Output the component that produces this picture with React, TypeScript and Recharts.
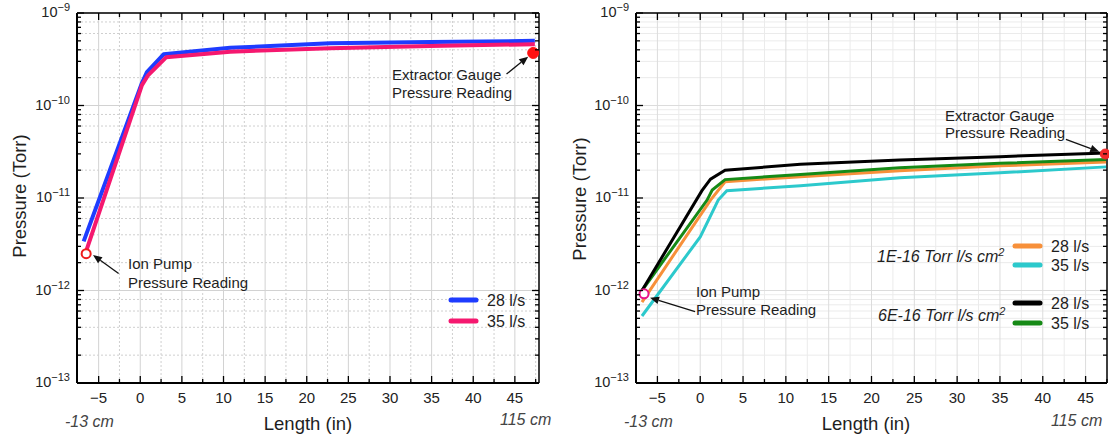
import { LineChart, Line, XAxis, YAxis, CartesianGrid, ReferenceDot, ReferenceLine } from "recharts";

const FONT = '"Liberation Sans", Arial, Helvetica, sans-serif';

// x positions (in) and pressures (Torr)
const leftX28 = [-6.8, 0.2, 0.8, 2.8, 10.8, 22.8, 34.8, 47.4];
const leftP28 = [3.4e-12, 1.75e-10, 2.3e-10, 3.58e-10, 4.2e-10, 4.7e-10, 4.85e-10, 5.0e-10];
const leftX35 = [-6.6, 0.2, 0.9, 3.1, 10.8, 22.8, 34.8, 47.4];
const leftP35 = [2.5e-12, 1.66e-10, 2.1e-10, 3.32e-10, 3.82e-10, 4.15e-10, 4.4e-10, 4.6e-10];

const rightXBlack = [-6.8, 0.2, 1.2, 2.9, 11.7, 23.3, 35, 47.4];
const rightPBlack = [1.0e-12, 1.2e-11, 1.6e-11, 2.0e-11, 2.31e-11, 2.58e-11, 2.8e-11, 3.06e-11];
const rightXGreen = [-6.8, 0.8, 1.4, 2.9, 11.7, 23.3, 35, 47.4];
const rightPGreen = [1.0e-12, 9.5e-12, 1.22e-11, 1.58e-11, 1.8e-11, 2.12e-11, 2.37e-11, 2.6e-11];
const rightXOrange = [-6.8, 1.2, 2.9, 11.7, 23.3, 35, 47.4];
const rightPOrange = [7.5e-13, 9.5e-12, 1.5e-11, 1.7e-11, 1.97e-11, 2.23e-11, 2.45e-11];
const rightXCyan = [-6.8, 0, 2.1, 3.1, 11.7, 23.3, 35, 47.4];
const rightPCyan = [5.3e-13, 3.8e-12, 9.5e-12, 1.2e-11, 1.36e-11, 1.66e-11, 1.87e-11, 2.17e-11];

// gauge readings
const ionLeft = { x: -6.5, p: 2.5e-12 };
const extLeft = { x: 47.2, p: 3.7e-10 };
const ionRight = { x: -6.56, p: 9.2e-13 };
const extRight = { x: 47.3, p: 2.99e-11 };

// axes
const xMajor = [-5, 0, 5, 10, 15, 20, 25, 30, 35, 40, 45];
const xMinor = [-2.5, 2.5, 7.5, 12.5, 17.5, 22.5, 27.5, 32.5, 37.5, 42.5, 47.5];
const yMajor = [1e-13, 1e-12, 1e-11, 1e-10, 1e-9];
const yMult = [2, 3, 4, 5, 6, 7, 8, 9];
const leftDomain = [-7.6, 47.9];
const rightDomain = [-7.5, 47.5];
const yDomain = [1e-13, 1e-9];

const yMinor = yMajor.slice(0, -1).flatMap((d) => yMult.map((m) => +(m * d).toPrecision(3)));
const yMinorEven = yMajor.slice(0, -1).flatMap((d) => [2, 4, 6, 8].map((m) => +(m * d).toPrecision(3)));
const yTicks = [...yMajor, ...yMinor].sort((a, b) => a - b);
const xTicks = [...xMajor, ...xMinor].sort((a, b) => a - b);

const pts = (xs: number[], ps: number[]) => xs.map((x, i) => ({ x, p: ps[i] }));

const isDecade = (v: number) => {
  const e = Math.round(Math.log10(v));
  return Math.abs(v / Math.pow(10, e) - 1) < 1e-6;
};

const YTick = ({ x, y, payload, side }: any) => {
  const v = payload.value;
  const major = isDecade(v);
  const len = major ? 7 : 4;
  const dir = side === "left" ? 1 : -1;
  const e = Math.round(Math.log10(v));
  return (
    <g>
      <line x1={x} y1={y} x2={x + dir * len} y2={y} stroke="#000" strokeWidth={1.3} />
      {major && side === "left" && (
        <text x={x - 7} y={y + 4} textAnchor="end" fontSize={14.5} fontFamily={FONT} fill="#222">
          10<tspan dy={-6} fontSize={11}>{`\u2212${-e}`}</tspan>
        </text>
      )}
    </g>
  );
};

const XTick = ({ x, y, payload, side }: any) => {
  const v = payload.value;
  const major = xMajor.includes(v);
  const len = major ? 7 : 4;
  const dir = side === "bottom" ? -1 : 1;
  return (
    <g>
      <line x1={x} y1={y} x2={x} y2={y + dir * len} stroke="#000" strokeWidth={1.3} />
      {major && side === "bottom" && (
        <text x={x} y={y + 20} textAnchor="middle" fontSize={15} fontFamily={FONT} fill="#222">
          {v < 0 ? `\u2212${-v}` : v}
        </text>
      )}
    </g>
  );
};

const Arrow = (props: any) => {
  const { x1, y1, x2, y2 } = props;
  const a = Math.atan2(y2 - y1, x2 - x1);
  const L = 9;
  const W = 3.8;
  const bx = x2 - L * Math.cos(a);
  const by = y2 - L * Math.sin(a);
  const head = `${x2},${y2} ${bx - W * Math.sin(a)},${by + W * Math.cos(a)} ${bx + W * Math.sin(a)},${by - W * Math.cos(a)}`;
  return (
    <g>
      <line x1={x1} y1={y1} x2={bx} y2={by} stroke="#111" strokeWidth={1.3} />
      <polygon points={head} fill="#111" />
    </g>
  );
};

const Txt = ({ x, y, children, size = 15, italic = false, anchor = "start", fill = "#1e1e1e", rotate = 0 }: any) => (
  <text
    x={x}
    y={y}
    fontSize={size}
    fontFamily={FONT}
    fontStyle={italic ? "italic" : "normal"}
    textAnchor={anchor}
    fill={fill}
    transform={rotate ? `rotate(${rotate} ${x} ${y})` : undefined}
  >
    {children}
  </text>
);

const axes = (domain: number[], rightWidth: number) => [
  <XAxis
    key="xb"
    xAxisId={0}
    type="number"
    dataKey="x"
    domain={domain}
    allowDataOverflow
    ticks={xTicks}
    interval={0}
    tickSize={0}
    tickMargin={0}
    tickLine={false}
    axisLine={{ stroke: "#000", strokeWidth: 2 }}
    height={30}
    tick={(p: any) => <XTick {...p} side="bottom" />}
  />,
  <XAxis
    key="xt"
    xAxisId="t"
    orientation="top"
    type="number"
    dataKey="x"
    domain={domain}
    allowDataOverflow
    ticks={xTicks}
    interval={0}
    tickSize={0}
    tickMargin={0}
    tickLine={false}
    axisLine={{ stroke: "#000", strokeWidth: 1.5 }}
    height={5}
    tick={(p: any) => <XTick {...p} side="top" />}
  />,
  <YAxis
    key="yl"
    yAxisId={0}
    scale="log"
    type="number"
    domain={yDomain}
    allowDataOverflow
    ticks={yTicks}
    interval={0}
    tickSize={0}
    tickMargin={0}
    tickLine={false}
    axisLine={{ stroke: "#000", strokeWidth: 2 }}
    width={60}
    tick={(p: any) => <YTick {...p} side="left" />}
  />,
  <YAxis
    key="yr"
    yAxisId="r"
    orientation="right"
    scale="log"
    type="number"
    domain={yDomain}
    allowDataOverflow
    ticks={yTicks}
    interval={0}
    tickSize={0}
    tickMargin={0}
    tickLine={false}
    axisLine={{ stroke: "#000", strokeWidth: 1.5 }}
    width={rightWidth}
    tick={(p: any) => <YTick {...p} side="right" />}
  />,
];

const LeftChart = () => (
  <LineChart width={560} height={441} margin={{ top: 8, right: 11, bottom: 28, left: 17 }}>
    <CartesianGrid horizontalValues={yMinorEven} verticalValues={xMinor} stroke="#cfcfcf" strokeDasharray="2 2" />
    <CartesianGrid horizontalValues={yMajor} verticalValues={xMajor} stroke="#d2d2d2" />
    {axes(leftDomain, 10)}
    <Line data={pts(leftX28, leftP28)} dataKey="p" stroke="#1e3cff" strokeWidth={4} dot={false} isAnimationActive={false} strokeLinejoin="round" />
    <Line data={pts(leftX35, leftP35)} dataKey="p" xAxisId="t" yAxisId="r" stroke="#f5186f" strokeWidth={4} dot={false} isAnimationActive={false} strokeLinejoin="round" />
    <ReferenceLine segment={[{ x: -2.6, y: 1.53e-12 }, { x: -5.68, y: 2.42e-12 }]} shape={Arrow} ifOverflow="visible" />
    <ReferenceLine segment={[{ x: 44.0, y: 2.19e-10 }, { x: 46.6, y: 3.37e-10 }]} shape={Arrow} ifOverflow="visible" />
    <ReferenceDot x={ionLeft.x} y={ionLeft.p} r={4.5} fill="#fff" stroke="#ee1c1c" strokeWidth={2} ifOverflow="visible" />
    <ReferenceDot x={extLeft.x} y={extLeft.p} r={5.5} fill="#ff1212" stroke="#ff1212" strokeWidth={1} ifOverflow="visible" />
  </LineChart>
);

const RightChart = () => (
  <LineChart width={549} height={441} margin={{ top: 8, right: 1, bottom: 28, left: 16 }}>
    <CartesianGrid horizontalValues={yMinor} verticalValues={xMinor} stroke="#ebebeb" />
    <CartesianGrid horizontalValues={yMajor} verticalValues={xMajor} stroke="#dcdcdc" />
    {axes(rightDomain, 1)}
    <Line data={pts(rightXCyan, rightPCyan)} dataKey="p" stroke="#2cc9cc" strokeWidth={3} dot={false} isAnimationActive={false} />
    <Line data={pts(rightXOrange, rightPOrange)} dataKey="p" stroke="#f7903a" strokeWidth={3} dot={false} isAnimationActive={false} />
    <Line data={pts(rightXGreen, rightPGreen)} dataKey="p" stroke="#168a16" strokeWidth={3} dot={false} isAnimationActive={false} />
    <Line data={pts(rightXBlack, rightPBlack)} dataKey="p" xAxisId="t" yAxisId="r" stroke="#000" strokeWidth={3} dot={false} isAnimationActive={false} />
    <ReferenceLine segment={[{ x: -0.6, y: 5.9e-13 }, { x: -5.86, y: 8.35e-13 }]} shape={Arrow} ifOverflow="visible" />
    <ReferenceLine segment={[{ x: 42.7, y: 4.31e-11 }, { x: 46.6, y: 3.17e-11 }]} shape={Arrow} ifOverflow="visible" />
    <ReferenceDot x={ionRight.x} y={ionRight.p} r={4.5} fill="#fff" stroke="#e8158a" strokeWidth={2} ifOverflow="visible" />
    <ReferenceDot x={extRight.x} y={extRight.p} r={5} fill="#f02a2a" stroke="#f02a2a" strokeWidth={1} ifOverflow="visible" />
  </LineChart>
);

const LegendRow = ({ x, y, color, label }: any) => (
  <g>
    <line x1={x} y1={y} x2={x + 25} y2={y} stroke={color} strokeWidth={5} strokeLinecap="round" />
    <Txt x={x + 36} y={y + 6} size={16}>{label}</Txt>
  </g>
);

export default function App() {
  return (
    <div style={{ position: "absolute", left: 0, top: 0, width: 1109, height: 441, background: "#fff", overflow: "hidden" }}>
      <div style={{ position: "absolute", left: 0, top: 0 }}>
        <LeftChart />
      </div>
      <div style={{ position: "absolute", left: 560, top: 0 }}>
        <RightChart />
      </div>
      <svg width={1109} height={441} style={{ position: "absolute", left: 0, top: 0, pointerEvents: "none" }}>
        {/* left panel text */}
        <Txt x={26} y={196} size={18.5} anchor="middle" rotate={-90}>Pressure (Torr)</Txt>
        <Txt x={308} y={430} size={18.5} anchor="middle">Length (in)</Txt>
        <Txt x={65} y={427} size={16} italic fill="#444">-13 cm</Txt>
        <Txt x={500} y={425} size={16} italic fill="#444">115 cm</Txt>
        <Txt x={128} y={269}>Ion Pump</Txt>
        <Txt x={128} y={288}>Pressure Reading</Txt>
        <Txt x={392} y={80}>Extractor Gauge</Txt>
        <Txt x={392} y={98}>Pressure Reading</Txt>
        <LegendRow x={451} y={300} color="#1e3cff" label="28 l/s" />
        <LegendRow x={451} y={321} color="#f5186f" label="35 l/s" />

        {/* right panel text */}
        <Txt x={586} y={199} size={18.5} anchor="middle" rotate={-90}>Pressure (Torr)</Txt>
        <Txt x={866} y={430} size={18.5} anchor="middle">Length (in)</Txt>
        <Txt x={624} y={427} size={16} italic fill="#444">-13 cm</Txt>
        <Txt x={1051} y={426} size={16} italic fill="#444">115 cm</Txt>
        <Txt x={696} y={297}>Ion Pump</Txt>
        <Txt x={696} y={315}>Pressure Reading</Txt>
        <Txt x={945} y={121}>Extractor Gauge</Txt>
        <Txt x={945} y={138}>Pressure Reading</Txt>
        <Txt x={877} y={262} size={16} italic>
          1E-16 Torr l/s cm<tspan dy={-6} fontSize={11}>2</tspan>
        </Txt>
        <LegendRow x={1015} y={246} color="#f7903a" label="28 l/s" />
        <LegendRow x={1015} y={265} color="#2cc9cc" label="35 l/s" />
        <Txt x={878} y={321} size={16} italic>
          6E-16 Torr l/s cm<tspan dy={-6} fontSize={11}>2</tspan>
        </Txt>
        <LegendRow x={1015} y={303} color="#000" label="28 l/s" />
        <LegendRow x={1015} y={323} color="#168a16" label="35 l/s" />
      </svg>
    </div>
  );
}
